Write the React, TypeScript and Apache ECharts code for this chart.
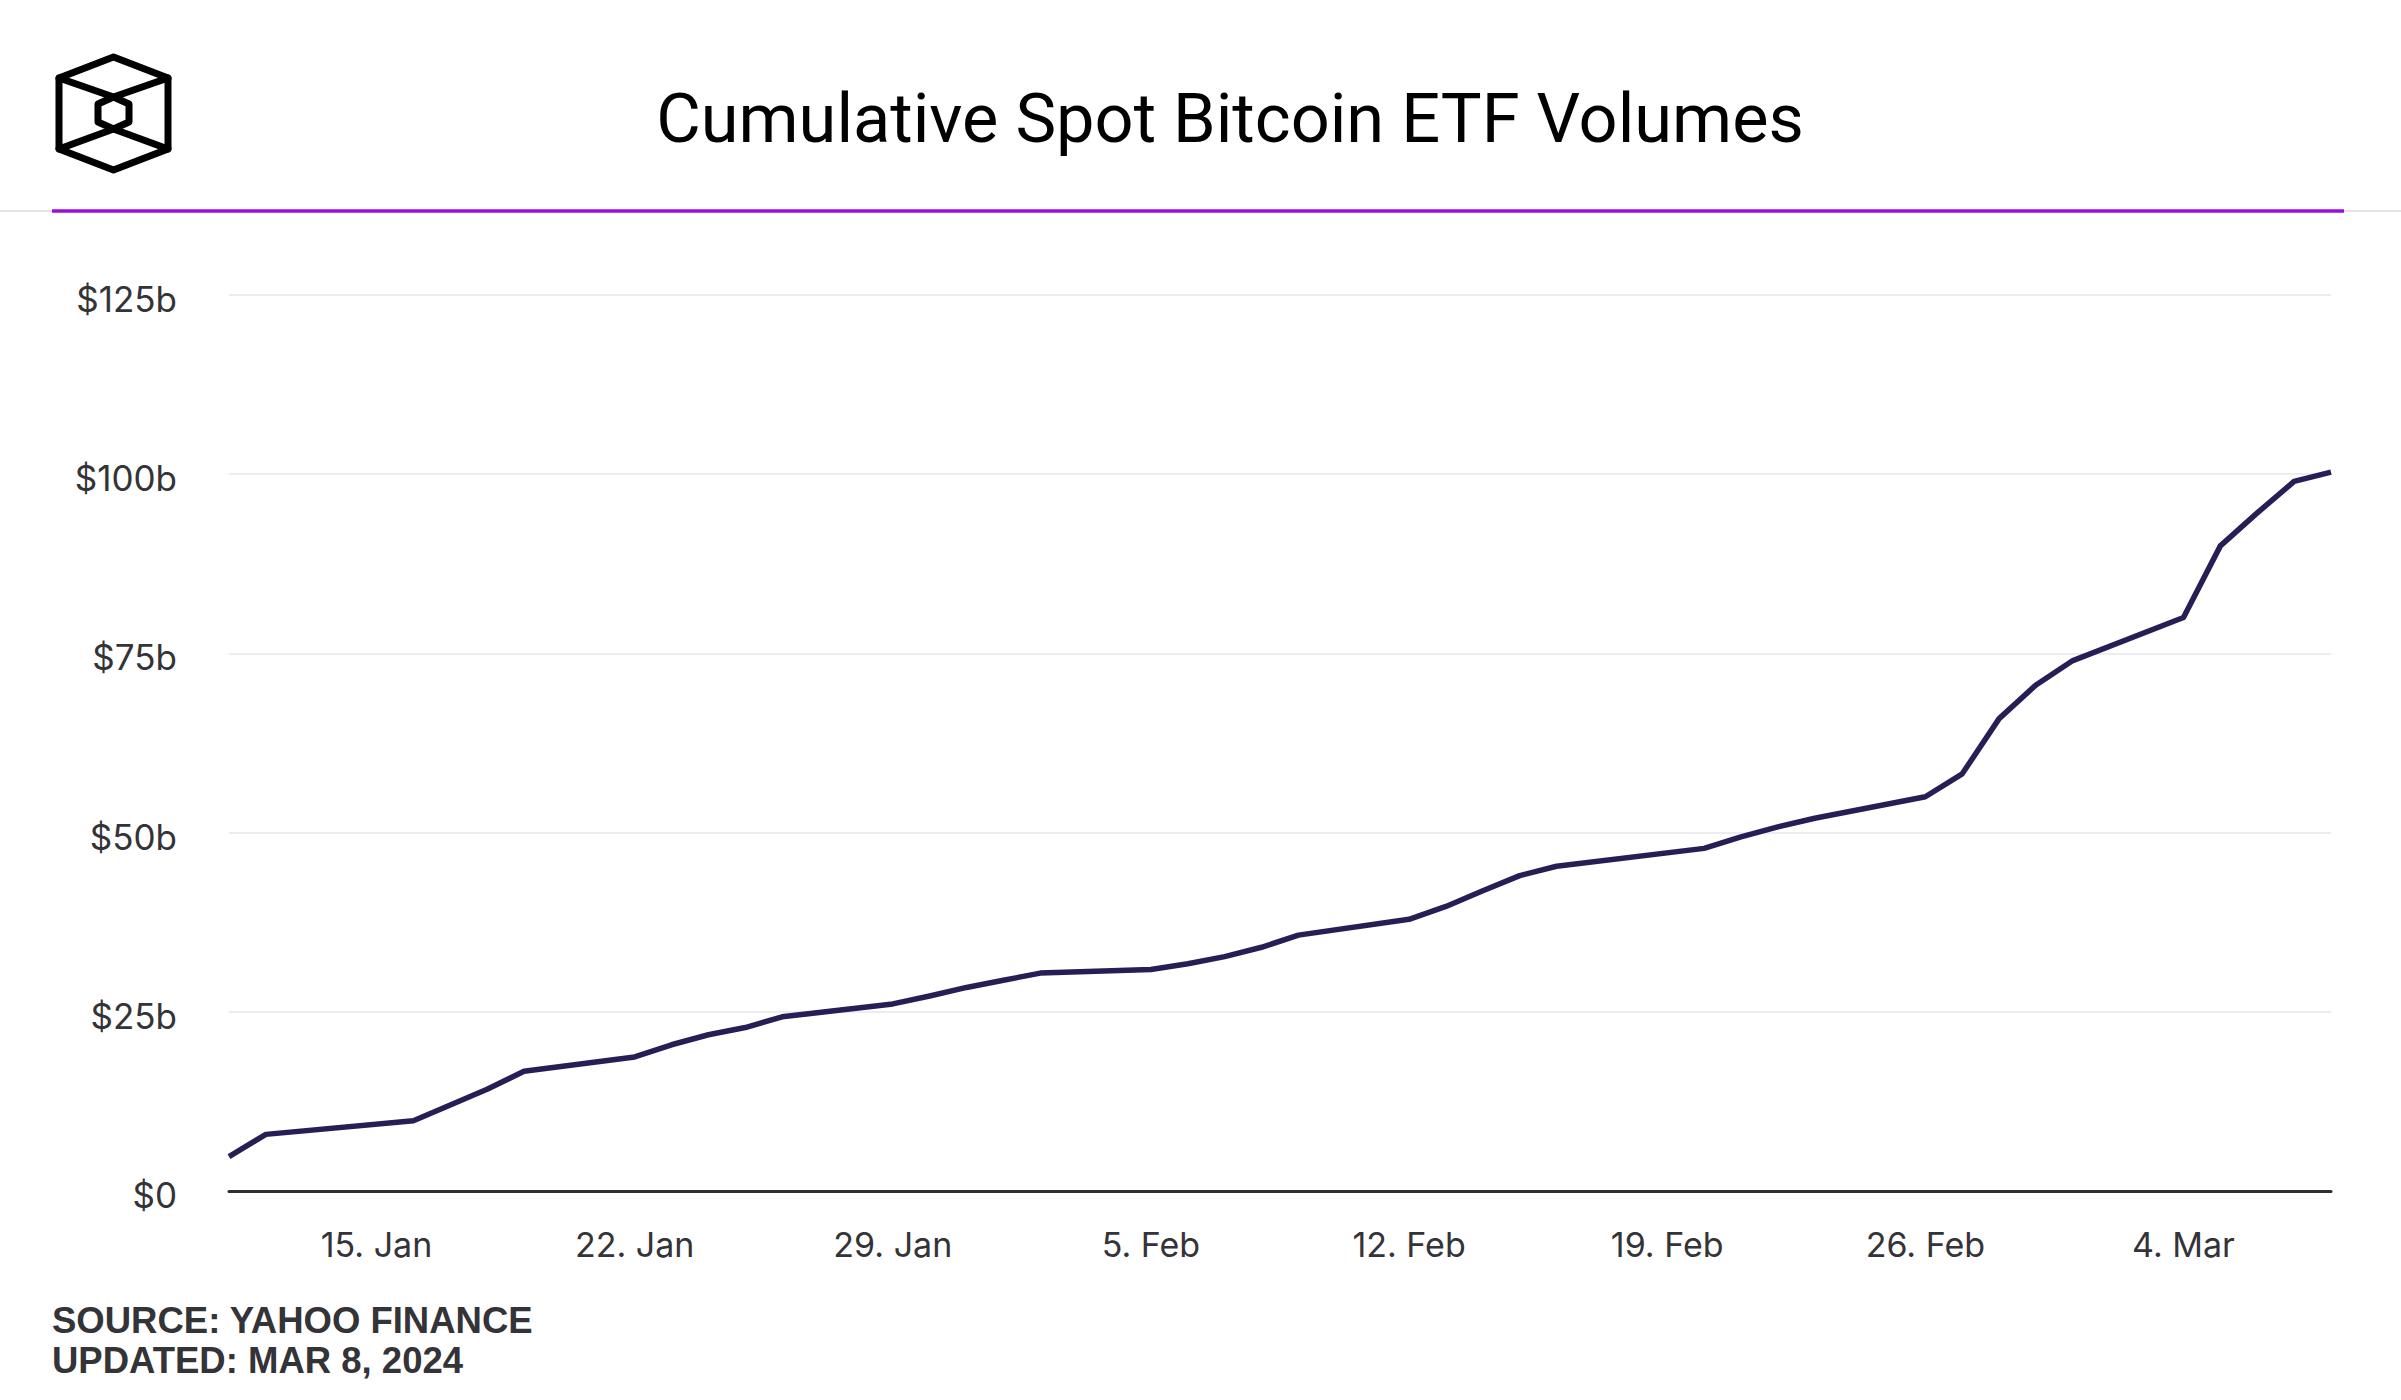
import React, { useEffect, useRef } from "react";
import * as echarts from "echarts";

// Trading days (cumulative volume, $ billions)
const dates = [
  "2024-01-11", "2024-01-12", "2024-01-16", "2024-01-17", "2024-01-18", "2024-01-19",
  "2024-01-22", "2024-01-23", "2024-01-24", "2024-01-25", "2024-01-26",
  "2024-01-29", "2024-01-30", "2024-01-31", "2024-02-01", "2024-02-02",
  "2024-02-05", "2024-02-06", "2024-02-07", "2024-02-08", "2024-02-09",
  "2024-02-12", "2024-02-13", "2024-02-14", "2024-02-15", "2024-02-16",
  "2024-02-20", "2024-02-21", "2024-02-22", "2024-02-23",
  "2024-02-26", "2024-02-27", "2024-02-28", "2024-02-29", "2024-03-01",
  "2024-03-04", "2024-03-05", "2024-03-06", "2024-03-07", "2024-03-08",
];
const volumes = [
  4.8, 7.9, 9.8, 12.0, 14.2, 16.7,
  18.7, 20.4, 21.8, 22.8, 24.3,
  26.1, 27.2, 28.4, 29.4, 30.4,
  30.9, 31.7, 32.7, 34.0, 35.7,
  37.9, 39.7, 41.9, 44.0, 45.3,
  47.8, 49.4, 50.8, 52.0,
  55.0, 58.2, 65.9, 70.6, 74.0,
  80.0, 90.0, 94.6, 99.0, 100.3,
];
const xTickDates = ["2024-01-15", "2024-01-22", "2024-01-29", "2024-02-05", "2024-02-12", "2024-02-19", "2024-02-26", "2024-03-04"];
const xTickLabels = ["15. Jan", "22. Jan", "29. Jan", "5. Feb", "12. Feb", "19. Feb", "26. Feb", "4. Mar"];
const yTickValues = [0, 25, 50, 75, 100, 125];
const yTickLabels = ["$0", "$25b", "$50b", "$75b", "$100b", "$125b"];
const xStart = "2024-01-11";
const xEnd = "2024-03-08";

const titleText = "Cumulative Spot Bitcoin ETF Volumes";
const sourceText = "SOURCE: YAHOO FINANCE";
const updatedText = "UPDATED: MAR 8, 2024";

const DAY = 86400000;
function toTs(s: string): number {
  const [y, m, d] = s.split("-").map(Number);
  return Date.UTC(y, m - 1, d);
}
function dayIndex(s: string): number {
  return Math.round((toTs(s) - toTs(xStart)) / DAY);
}

export default function App() {
  const ref = useRef<HTMLDivElement>(null);

  useEffect(() => {
    if (!ref.current) return;
    const chart = echarts.init(ref.current, null, { renderer: "svg" });
    const tickIdx = xTickDates.map(dayIndex);
    const xLabelFor = (v: number) => {
      const i = tickIdx.indexOf(Math.round(v));
      return i >= 0 ? xTickLabels[i] : "";
    };
    const yLabelFor = (v: number) => {
      const i = yTickValues.indexOf(v);
      return i >= 0 ? yTickLabels[i] : "";
    };

    const logoStroke = { fill: "none", stroke: "#000", lineWidth: 7, lineJoin: "round", lineCap: "round" };

    chart.setOption({
      animation: false,
      backgroundColor: "#ffffff",
      grid: { left: 229, right: 70, top: 295, bottom: 209, containLabel: false },
      xAxis: {
        type: "value",
        min: 0,
        max: dayIndex(xEnd),
        axisLine: { show: true, onZero: false, lineStyle: { color: "#2f2f36", width: 3 } },
        axisTick: { show: false },
        splitLine: { show: false },
        axisLabel: {
          customValues: tickIdx,
          formatter: (v: number) => xLabelFor(v),
          fontFamily: "Inter",
          fontSize: 34,
          color: "#333338",
          margin: 36,
        },
      },
      yAxis: {
        type: "value",
        min: 0,
        max: 125,
        interval: 25,
        axisLine: { show: false },
        axisTick: { show: false },
        splitLine: { lineStyle: { color: "#ececf1", width: 2 } },
        axisLabel: {
          formatter: (v: number) => yLabelFor(v),
          fontFamily: "Inter",
          fontSize: 35,
          color: "#333338",
          margin: 52,
          verticalAlign: "top",
          lineHeight: 8,
        },
      },
      series: [
        {
          type: "line",
          data: dates.map((d, i) => [dayIndex(d), volumes[i]]),
          showSymbol: false,
          lineStyle: { color: "#261f56", width: 5.5, join: "round" },
          itemStyle: { color: "#261f56" },
          z: 5,
        },
      ],
      graphic: [
        { type: "line", shape: { x1: 0, y1: 211, x2: 2401, y2: 211 }, style: { stroke: "#e2e2e8", lineWidth: 2 } },
        { type: "line", shape: { x1: 52, y1: 211, x2: 2344, y2: 211 }, style: { stroke: "#9b0edc", lineWidth: 3.5 } },
        {
          type: "text",
          x: 1230,
          y: 118,
          style: {
            text: titleText,
            fontFamily: "Roboto",
            fontSize: 68.5,
            fontWeight: 400,
            fill: "#000000",
            align: "center",
            verticalAlign: "middle",
          },
        },
        {
          type: "polygon",
          shape: { points: [[113.5, 57], [168, 78], [168, 149], [113.5, 170], [59, 149], [59, 78]] },
          style: logoStroke,
        },
        {
          type: "polygon",
          shape: { points: [[113.5, 97], [129, 104], [129, 122], [113.5, 129], [98, 122], [98, 104]] },
          style: logoStroke,
        },
        { type: "polyline", shape: { points: [[59, 78], [113.5, 97], [168, 78]] }, style: logoStroke },
        { type: "polyline", shape: { points: [[59, 149], [113.5, 129], [168, 149]] }, style: logoStroke },
        {
          type: "text",
          x: 52,
          y: 1320,
          style: {
            text: sourceText,
            fontFamily: "Liberation Sans",
            fontSize: 36.5,
            fontWeight: "bold",
            fill: "#333338",
            align: "left",
            verticalAlign: "middle",
          },
        },
        {
          type: "text",
          x: 52,
          y: 1360,
          style: {
            text: updatedText,
            fontFamily: "Liberation Sans",
            fontSize: 36.5,
            fontWeight: "bold",
            fill: "#333338",
            align: "left",
            verticalAlign: "middle",
          },
        },
      ],
    });
    return () => chart.dispose();
  }, []);

  return (
    <div
      ref={ref}
      style={{ position: "absolute", left: 0, top: 0, width: 2401, height: 1400, background: "#fff" }}
    />
  );
}
